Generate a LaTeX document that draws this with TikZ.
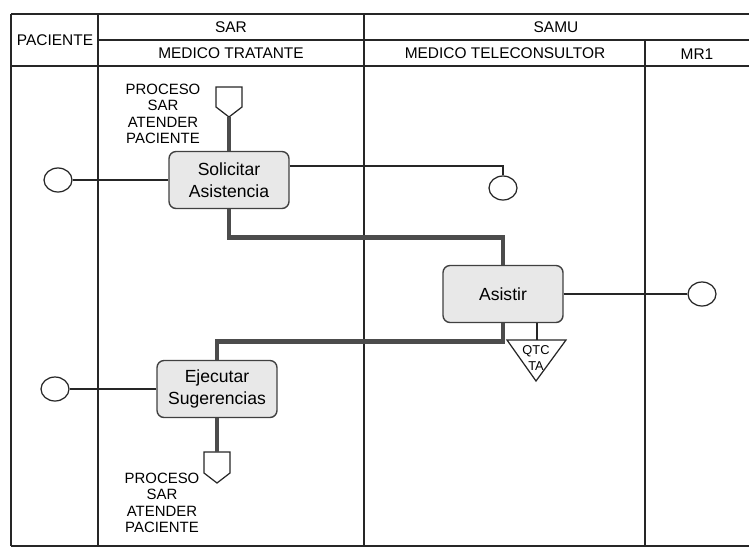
\documentclass[tikz,border=0pt]{standalone}
\usepackage{fontspec}
\setmainfont{Liberation Sans}
\usetikzlibrary{calc,shapes.geometric}
\tikzset{
	marco/.style={line width=0.6pt, color=black!85},
	titulo/.style={font=\fontsize{8.8}{10}\selectfont, inner sep=0pt},
	tarea/.style={draw=black!75, line width=0.8pt, rounded corners=4pt, fill=black!9, align=center,
		minimum width=2.4cm, minimum height=1.14cm, font=\fontsize{10}{12.5}\selectfont},
	evento/.style={draw=black!85, ellipse, line width=0.7pt, minimum width=0.56cm, minimum height=0.48cm, inner sep=0pt},
	flujo/.style={line width=2.8pt, color=black!70},
	linea/.style={line width=0.6pt, color=black!85},
	conector/.style={draw=black!85, line width=0.7pt, fill=white},
	etiqueta/.style={align=center, inner sep=0pt, font=\fontsize{8.5}{9.3}\selectfont}
}

\begin{document}
\begin{tikzpicture}[x=0.02cm, y=-0.02cm]
			%%%%% START %%%%%
			\useasboundingbox (0, 0) rectangle (750, 548);
			
			% carriles
			\draw[marco] (11, 14) -- (749, 14);
			\draw[marco] (98, 40) -- (749, 40);
			\draw[marco] (11, 66) -- (749, 66);
			\draw[marco] (11, 546) -- (749, 546);
			\draw[marco] (11, 14) -- (11, 546);
			\draw[marco] (98, 14) -- (98, 546);
			\draw[marco] (364, 14) -- (364, 546);
			\draw[marco] (645, 40) -- (645, 546);
			
			\node[titulo] (paciente) at (55, 40) {PACIENTE};
			\node[titulo] (sar) at (231, 27) {SAR};
			\node[titulo] (samu) at (556, 27) {SAMU};
			\node[titulo] (tratante) at (231, 53) {MEDICO TRATANTE};
			\node[titulo] (teleconsultor) at (505, 53) {MEDICO TELECONSULTOR};
			\node[titulo] (mr) at (697, 54) {MR1};
			
			% conectores de pagina
			\draw[conector] (216, 87) -- (242, 87) -- (242, 107) -- (229, 117) -- (216, 107) -- cycle;
			\coordinate (conA) at (229, 117);
			\node[etiqueta] (procA) at (163, 114) {PROCESO\\SAR\\ATENDER\\PACIENTE};
			
			\draw[conector] (204, 452) -- (230, 452) -- (230, 473) -- (217, 483) -- (204, 473) -- cycle;
			\coordinate (conB) at (217, 452);
			\node[etiqueta] (procB) at (162, 503) {PROCESO\\SAR\\ATENDER\\PACIENTE};
			
			% tareas
			\node[tarea] (solicitar) at (229, 180) {Solicitar\\Asistencia};
			\node[tarea] (asistir) at (503, 294) {Asistir};
			\node[tarea] (ejecutar) at (217, 389) {Ejecutar\\Sugerencias};
			
			% eventos
			\node[evento] (evA) at (58, 180) {};
			\node[evento] (evB) at (503, 188) {};
			\node[evento] (evC) at (702, 294) {};
			\node[evento] (evD) at (55, 389) {};
			
			% documento
			\draw[conector] (507, 340) -- (566, 340) -- (536, 381) -- cycle;
			\coordinate (doc) at (537, 340);
			\node[inner sep=0pt, align=center, font=\fontsize{7.3}{9.6}\selectfont] (qtc) at (536, 358) {QTC\\TA};
			
			% flujo
			\draw[flujo] (conA) -- (solicitar.north);
			\draw[flujo] (solicitar.south) -- ++(0, 28) -| (asistir.north);
			\draw[flujo] (asistir.south) -- ++(0, 18) -| (ejecutar.north);
			\draw[flujo] (ejecutar.south) -- (conB);
			
			\draw[linea] (evA) -- (solicitar.west);
			\draw[linea] ($(solicitar.east)+(0, -14)$) -| (evB.north);
			\draw[linea] (asistir.east) -- (evC);
			\draw[linea] (ejecutar.west) -- (evD);
			\draw[linea] ($(asistir.south)+(34, 0)$) -- (doc);
			
			%%%%% END %%%%%
\end{tikzpicture}
\end{document}
